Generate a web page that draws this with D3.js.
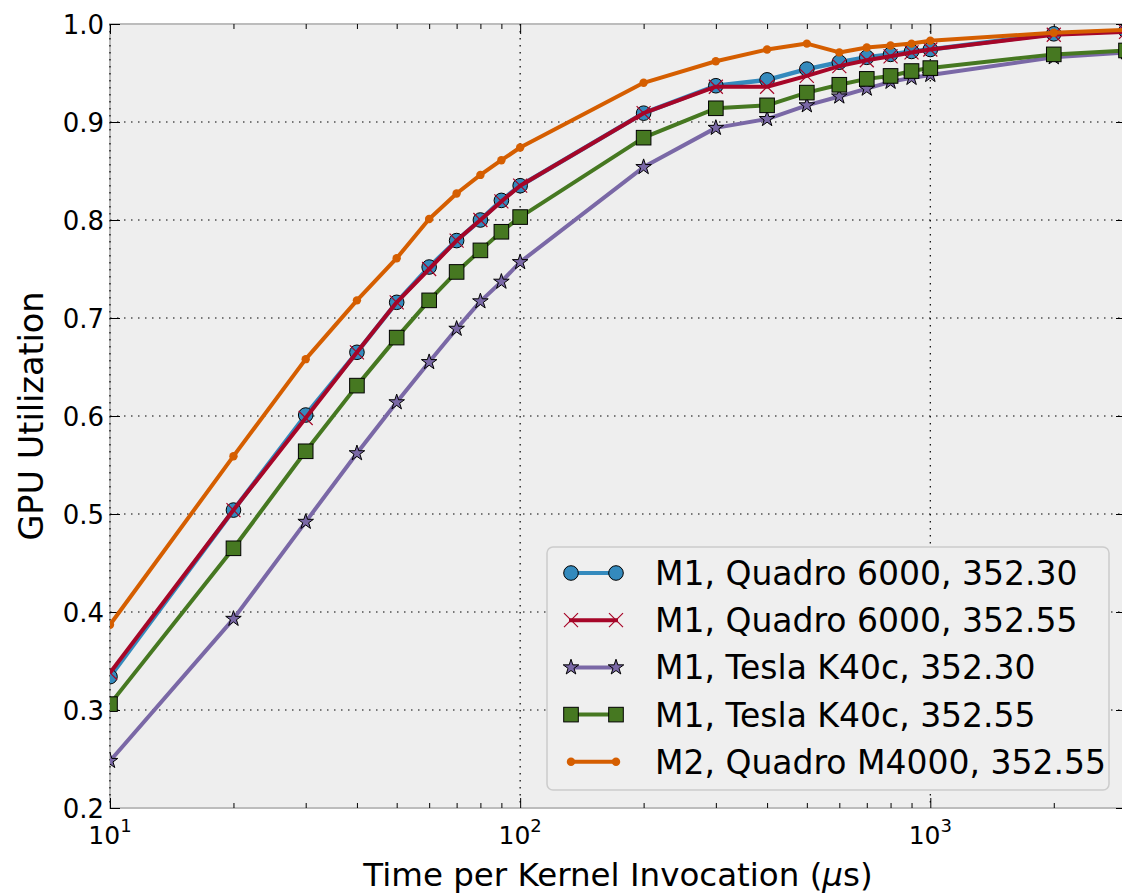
<!DOCTYPE html>
<html>
<head>
<meta charset="utf-8">
<script src="https://cdn.jsdelivr.net/npm/d3@7"></script>
<style>
  body { margin: 0; background: #fff; }
  text { font-family: "DejaVu Sans", sans-serif; fill: #000; }
</style>
</head>
<body>
<script>
// kernel invocation times (us)
const times = [10, 20, 30, 40, 50, 60, 70, 80, 90, 100, 200, 300, 400, 500, 600, 700, 800, 900, 1000, 2000, 3000]

const q6000_35230 = [0.334, 0.504, 0.601, 0.665, 0.716, 0.752, 0.779, 0.800, 0.820, 0.835, 0.909, 0.937, 0.943, 0.954, 0.961, 0.966, 0.969, 0.972, 0.974, 0.990, 0.993]
const q6000_35255 = [0.338, 0.504, 0.598, 0.665, 0.716, 0.750, 0.779, 0.800, 0.819, 0.835, 0.909, 0.936, 0.936, 0.947, 0.957, 0.963, 0.967, 0.971, 0.974, 0.989, 0.992]
const k40c_35230 = [0.248, 0.393, 0.492, 0.562, 0.614, 0.655, 0.689, 0.717, 0.737, 0.757, 0.854, 0.894, 0.903, 0.917, 0.926, 0.934, 0.941, 0.945, 0.948, 0.966, 0.971]
const k40c_35255 = [0.306, 0.465, 0.564, 0.631, 0.680, 0.718, 0.747, 0.769, 0.788, 0.803, 0.884, 0.914, 0.917, 0.930, 0.938, 0.944, 0.947, 0.952, 0.955, 0.969, 0.973]
const m4000_35255 = [0.387, 0.559, 0.658, 0.718, 0.761, 0.801, 0.827, 0.846, 0.861, 0.874, 0.940, 0.962, 0.974, 0.980, 0.971, 0.976, 0.978, 0.980, 0.983, 0.991, 0.994]

const seriesNames = [
    "M1, Quadro 6000, 352.30",
    "M1, Quadro 6000, 352.55",
    "M1, Tesla K40c, 352.30",
    "M1, Tesla K40c, 352.55",
    "M2, Quadro M4000, 352.55"
]
const seriesValues = [q6000_35230, q6000_35255, k40c_35230, k40c_35255, m4000_35255]
const seriesColors = ["#348ABD", "#A60628", "#7A68A6", "#467821", "#D55E00"]
const seriesMarkers = ["circle", "x", "star", "square", "dot"]

const yTicks = [0.2, 0.3, 0.4, 0.5, 0.6, 0.7, 0.8, 0.9, 1.0]
const xMajor = [10, 100, 1000]
const xMinor = [20, 30, 40, 50, 60, 70, 80, 90, 200, 300, 400, 500, 600, 700, 800, 900, 2000, 3000]

const width = 1122
const height = 894
const mLeft = 110, mTop = 24, mBottom = 808
const mRight = 1126

const svg = d3.select("body").append("svg")
    .attr("width", width)
    .attr("height", height)

const x = d3.scaleLog().domain([10, 3000]).range([mLeft, mRight])
const y = d3.scaleLinear().domain([0.2, 1.0]).range([mBottom, mTop])

svg.append("defs").append("clipPath")
    .attr("id", "plotclip")
    .append("rect")
    .attr("x", mLeft).attr("y", mTop)
    .attr("width", mRight - mLeft).attr("height", mBottom - mTop)

// axes background
svg.append("rect")
    .attr("x", mLeft).attr("y", mTop)
    .attr("width", mRight - mLeft).attr("height", mBottom - mTop)
    .attr("fill", "#eeeeee")

// frame
svg.append("rect")
    .attr("x", mLeft).attr("y", mTop)
    .attr("width", mRight - mLeft).attr("height", mBottom - mTop)
    .attr("fill", "none")
    .attr("stroke", "#bcbcbc")
    .attr("stroke-width", 2)

// grid
const grid = svg.append("g")
    .attr("stroke", "#000")
    .attr("stroke-width", 1.2)
    .attr("stroke-dasharray", "1.5,5.5")
grid.selectAll("line.gy")
    .data(yTicks.slice(1, -1))
    .enter().append("line")
    .attr("x1", mLeft).attr("x2", mRight)
    .attr("y1", d => y(d)).attr("y2", d => y(d))
grid.selectAll("line.gx")
    .data(xMajor)
    .enter().append("line")
    .attr("x1", d => x(d)).attr("x2", d => x(d))
    .attr("y1", mTop).attr("y2", mBottom)

// axes with inward ticks
const yLeft = svg.append("g")
    .attr("transform", `translate(${mLeft},0)`)
    .call(d3.axisLeft(y).tickValues(yTicks).tickSizeInner(-10).tickSizeOuter(0)
        .tickPadding(16).tickFormat(d3.format(".1f")))
const yRight = svg.append("g")
    .attr("transform", `translate(${mRight},0)`)
    .call(d3.axisRight(y).tickValues(yTicks).tickSizeInner(-10).tickSizeOuter(0).tickFormat(""))

const xBottom = svg.append("g")
    .attr("transform", `translate(0,${mBottom})`)
    .call(d3.axisBottom(x).tickValues(xMajor).tickSizeInner(-10).tickSizeOuter(0).tickFormat(""))
const xBottomMinor = svg.append("g")
    .attr("transform", `translate(0,${mBottom})`)
    .call(d3.axisBottom(x).tickValues(xMinor).tickSizeInner(-5).tickSizeOuter(0).tickFormat(""))
const xTop = svg.append("g")
    .attr("transform", `translate(0,${mTop})`)
    .call(d3.axisTop(x).tickValues(xMajor).tickSizeInner(-10).tickSizeOuter(0).tickFormat(""))
const xTopMinor = svg.append("g")
    .attr("transform", `translate(0,${mTop})`)
    .call(d3.axisTop(x).tickValues(xMinor).tickSizeInner(-5).tickSizeOuter(0).tickFormat(""))

for (const ax of [yLeft, yRight, xBottom, xBottomMinor, xTop, xTopMinor]) {
    ax.select(".domain").remove()
    ax.selectAll(".tick line").attr("stroke", "#000").attr("stroke-width", 1)
}
yLeft.selectAll(".tick text")
    .style("font-family", "DejaVu Sans")
    .attr("font-size", 26)
    .attr("fill", "#000")
    .attr("dy", "0.36em")
    .attr("x", -6)

// x tick labels as 10^n
const xLabels = svg.append("g")
xLabels.selectAll("text")
    .data(xMajor)
    .enter().append("text")
    .attr("x", d => x(d))
    .attr("y", 844)
    .attr("text-anchor", "middle")
    .attr("font-size", 25)
    .each(function (d) {
        const t = d3.select(this)
        t.append("tspan").text("10")
        t.append("tspan").attr("font-size", 18).attr("dy", -12).text(Math.round(Math.log10(d)))
    })

// axis titles
const xTitle = svg.append("text")
    .attr("x", (mLeft + mRight) / 2)
    .attr("y", 886)
    .attr("text-anchor", "middle")
    .attr("font-size", 32.5)
xTitle.append("tspan").text("Time per Kernel Invocation (")
xTitle.append("tspan").attr("font-style", "italic").text("μ")
xTitle.append("tspan").text("s)")

svg.append("text")
    .attr("transform", `translate(43,${(mTop + mBottom) / 2}) rotate(-90)`)
    .attr("text-anchor", "middle")
    .attr("font-size", 33.5)
    .text("GPU Utilization")

// markers
function drawMarker(sel, kind, color) {
    if (kind === "circle") {
        sel.append("circle").attr("r", 7.3)
            .attr("fill", color).attr("stroke", "#000").attr("stroke-width", 1)
    } else if (kind === "square") {
        sel.append("rect").attr("x", -7.3).attr("y", -7.3).attr("width", 14.6).attr("height", 14.6)
            .attr("fill", color).attr("stroke", "#000").attr("stroke-width", 1)
    } else if (kind === "star") {
        sel.append("path").attr("d", d3.symbol().type(d3.symbolStar).size(75)())
            .attr("fill", color).attr("stroke", "#000").attr("stroke-width", 1)
    } else if (kind === "x") {
        sel.append("path").attr("d", "M-7,-7L7,7M-7,7L7,-7")
            .attr("fill", "none").attr("stroke", color).attr("stroke-width", 1.2)
    } else if (kind === "dot") {
        sel.append("circle").attr("r", 4.2).attr("fill", color)
    }
}

const line = d3.line()
    .x(d => x(d[0]))
    .y(d => y(d[1]))

const plot = svg.append("g").attr("clip-path", "url(#plotclip)")

seriesValues.forEach((vals, i) => {
    const pts = times.map((t, j) => [t, vals[j]])
    const g = plot.append("g")
    g.append("path")
        .datum(pts)
        .attr("d", line)
        .attr("fill", "none")
        .attr("stroke", seriesColors[i])
        .attr("stroke-width", i === 0 ? 4.5 : 4)
        .attr("stroke-linejoin", "round")
    g.selectAll("g.m")
        .data(pts)
        .enter().append("g")
        .attr("transform", d => `translate(${x(d[0])},${y(d[1])})`)
        .each(function () { drawMarker(d3.select(this), seriesMarkers[i], seriesColors[i]) })
})

// legend
const legend = svg.append("g")
legend.append("rect")
    .attr("x", 547).attr("y", 547)
    .attr("width", 562).attr("height", 243)
    .attr("rx", 6)
    .attr("fill", "#efefef")
    .attr("stroke", "#cccccc")
    .attr("stroke-width", 1.5)

seriesNames.forEach((name, i) => {
    const cy = 573 + i * 47.2
    const row = legend.append("g").attr("transform", `translate(0,${cy})`)
    row.append("line")
        .attr("x1", 569).attr("x2", 618)
        .attr("stroke", seriesColors[i])
        .attr("stroke-width", 4)
    for (const mx of [571, 616]) {
        drawMarker(row.append("g").attr("transform", `translate(${mx},0)`), seriesMarkers[i], seriesColors[i])
    }
    row.append("text")
        .attr("x", 655)
        .attr("y", 12)
        .attr("font-size", 33)
        .text(name)
})
</script>
</body>
</html>
